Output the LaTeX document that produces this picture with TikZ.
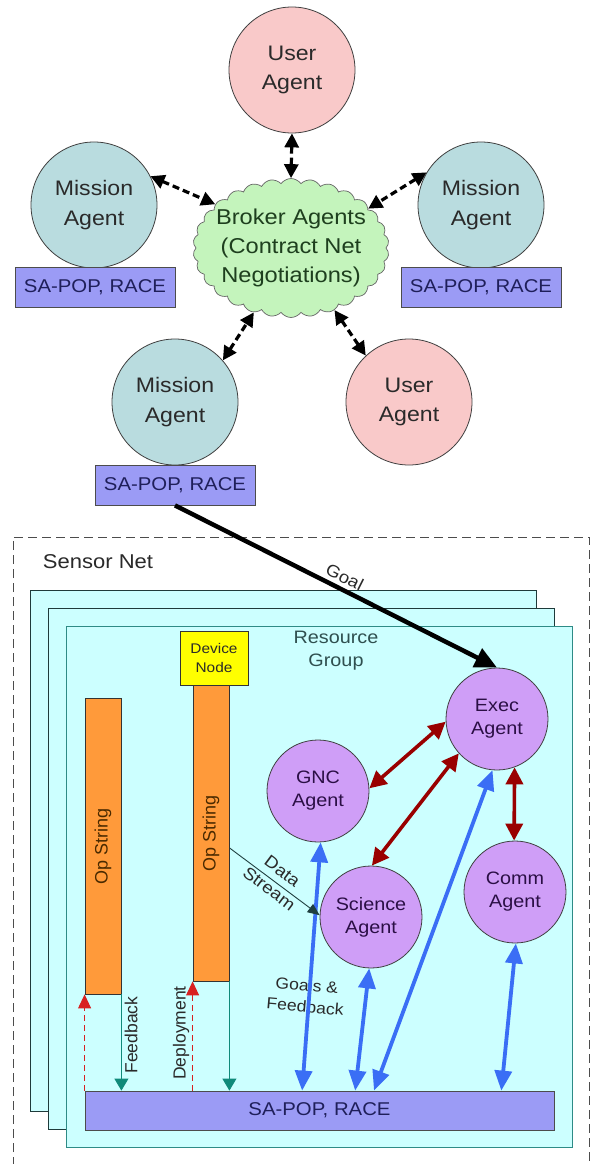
\documentclass[tikz,border=0pt]{standalone}
\usepackage{fontspec}
\setmainfont{Liberation Sans}[FakeStretch=1.1]
\newfontfamily\uprightface{Liberation Sans}
\usetikzlibrary{arrows.meta,shapes.symbols,calc}

\definecolor{userpink}{HTML}{F9C9C9}
\definecolor{missionteal}{HTML}{B9DCDF}
\definecolor{planblue}{HTML}{9B9BF5}
\definecolor{cloudgreen}{HTML}{C4F4BC}
\definecolor{panelcyan}{HTML}{CCFFFF}
\definecolor{agentviolet}{HTML}{CF9EF7}
\definecolor{oporange}{HTML}{FF9A3A}
\definecolor{devyellow}{HTML}{FFFF00}
\definecolor{linkred}{HTML}{990000}
\definecolor{linkblue}{HTML}{3A6EF5}
\definecolor{tealline}{HTML}{0F8A7A}
\definecolor{dashred}{HTML}{D82020}
\definecolor{panelteal}{HTML}{2E8B86}
\definecolor{panelrim}{HTML}{1E3A3A}
\definecolor{inktext}{HTML}{2A2A2A}
\definecolor{brokerink}{HTML}{1E3F1E}
\definecolor{planink}{HTML}{1F1F5A}
\definecolor{agentink}{HTML}{2B0F45}
\definecolor{groupink}{HTML}{2F4F4F}
\definecolor{opink}{HTML}{4A2A00}
\definecolor{streamink}{HTML}{1F3F3F}

\tikzset{
  bigagent/.style={circle, draw=black!75, line width=0.8pt, minimum size=126pt,
    inner sep=0pt, align=center, text=inktext,
    font=\fontsize{21}{29.5}\selectfont},
  useragent/.style={bigagent, fill=userpink},
  missionagent/.style={bigagent, fill=missionteal},
  planbox/.style={rectangle, draw=black!70, fill=planblue, line width=0.8pt,
    minimum width=160pt, minimum height=40pt, inner sep=0pt, text=planink,
    font=\fontsize{18.5}{22}\selectfont},
  smallagent/.style={circle, draw=black!75, fill=agentviolet, line width=0.8pt,
    minimum size=102pt, inner sep=0pt, align=center, text=agentink,
    font=\fontsize{18}{23}\selectfont},
  panel/.style={rectangle, fill=panelcyan, line width=1pt,
    minimum width=506pt, minimum height=521pt, inner sep=0pt},
  opbar/.style={rectangle, draw=black!80, fill=oporange, line width=0.8pt,
    minimum width=36pt, minimum height=296pt, inner sep=0pt},
  optext/.style={rotate=90, text=opink, font=\uprightface\fontsize{18}{21}\selectfont},
  negotiate/.style={{Triangle[length=14pt,width=14pt]}-{Triangle[length=14pt,width=14pt]},
    line width=3.2pt, dash pattern=on 7pt off 4pt, black},
  redlink/.style={{Triangle[length=17pt,width=17pt]}-{Triangle[length=17pt,width=17pt]},
    line width=3.6pt, linkred},
  bluelink/.style={{Triangle[length=20pt,width=17pt]}-{Triangle[length=20pt,width=17pt]},
    line width=3.8pt, linkblue},
  tealflow/.style={-{Triangle[length=12pt,width=14pt]}, line width=0.9pt, tealline},
  redflow/.style={-{Triangle[length=14pt,width=13pt]}, line width=0.9pt, dashred,
    dash pattern=on 6pt off 4pt},
  smalllabel/.style={text=inktext, font=\fontsize{16}{21}\selectfont, align=center},
  sidelabel/.style={rotate=90, text=inktext, font=\uprightface\fontsize{17.5}{21}\selectfont}
}

\begin{document}
\begin{tikzpicture}[x=1pt, y=-1pt]
\useasboundingbox (0,0) rectangle (591,1164);
\fill[white] (0,0) rectangle (591,1164);

% upper tier: user and mission agents around the broker
\node[useragent] (utop) at (292,70) {User\\Agent};
\node[missionagent] (mleft) at (94,205) {Mission\\Agent};
\node[missionagent] (mright) at (481,205) {Mission\\Agent};
\node[missionagent] (mbot) at (175,402) {Mission\\Agent};
\node[useragent] (ubot) at (409,402) {User\\Agent};

\node[planbox] (sapL) at (95,287) {SA-POP, RACE};
\node[planbox] (sapR) at (481,287) {SA-POP, RACE};
\node[planbox] (sapB) at (175,485) {SA-POP, RACE};

\node[cloud, cloud puffs=30, cloud puff arc=110, cloud ignores aspect,
      minimum width=196pt, minimum height=139pt, inner sep=0pt,
      draw=black!60, line width=0.7pt, fill=cloudgreen] (broker) at (291,248) {};
\node[align=center, text=brokerink, font=\fontsize{21.5}{29}\selectfont]
      (brokertext) at (broker.center) {Broker Agents\\(Contract Net\\Negotiations)};

\draw[negotiate] (utop.south) -- (broker.north);
\draw[negotiate] (mleft.27) -- (broker.150);
\draw[negotiate] (mright.149) -- (broker.27);
\draw[negotiate] (mbot.41) -- (broker.240);
\draw[negotiate] (ubot.133) -- (broker.305);

% sensor net
\draw[black!70, line width=0.8pt, dash pattern=on 9pt off 5pt]
  (13,1180) -- (13,537) -- (589,537) -- (589,1180);
\node[text=inktext, font=\fontsize{20}{24}\selectfont] (sensorlabel) at (98,562) {Sensor Net};

\node[panel, draw=panelrim] (layerA) at (283,851) {};
\node[panel, draw=panelrim] (layerB) at (301,869) {};
\node[panel, draw=panelteal] (group) at (319,887) {};

\node[align=center, text=groupink, font=\fontsize{18}{23}\selectfont]
  (grouplabel) at (336,651) {Resource\\Group};

\node[rectangle, draw=black!80, fill=devyellow, line width=0.8pt,
      minimum width=68pt, minimum height=54pt, inner sep=0pt, align=center,
      text=inktext, font=\fontsize{14}{19}\selectfont] (device) at (214,658) {Device\\Node};

\node[opbar] (opA) at (103,846) {};
\node[optext] (opAtext) at (opA.center) {Op String};
\node[opbar] (opB) at (211,833) {};
\node[optext] (opBtext) at (opB.center) {Op String};

\node[planbox, minimum width=469pt, minimum height=39pt] (bar) at (319.5,1110.5) {SA-POP, RACE};

% agents inside the resource group
\node[smallagent] (exec) at (497,719) {Exec\\Agent};
\node[smallagent] (gnc) at (318,791) {GNC\\Agent};
\node[smallagent] (sci) at (371,917) {Science\\Agent};
\node[smallagent] (comm) at (515,892) {Comm\\Agent};

\draw[redlink] (gnc.3) -- (exec.183);
\draw[redlink] (sci.89) -- (exec.222);
\draw[redlink] (exec.290) -- (comm.91);

\node[smalllabel, rotate=-5] (goalslabel) at (306,996) {Goals \&\\Feedback};

\draw[bluelink] (gnc.273) -- ($(bar.north west)!0.463!(bar.north east)$);
\draw[bluelink] (sci.268) -- ($(bar.north west)!0.576!(bar.north east)$);
\draw[bluelink] (exec.265) -- ($(bar.north west)!0.616!(bar.north east)$);
\draw[bluelink] (comm.271) -- ($(bar.north west)!0.887!(bar.north east)$);

% data stream from the device op string to the science agent
\draw[-{Triangle[length=12pt,width=10pt]}, line width=0.9pt, streamink]
  ($(opB.north east)!0.55!(opB.south east)$) -- (sci.178)
  node[pos=0.5, sloped, align=center, text=inktext,
       font=\fontsize{17}{22}\selectfont, yshift=2pt] (streamlabel) {Data\\Stream};

% deployment and feedback between the op strings and the planner
\draw[redflow] (bar.north west) -- (opA.south west);
\draw[tealflow] (opA.south east) -- (opA.south east |- bar.north);
\draw[redflow] (opB.south west |- bar.north) -- (opB.south west);
\draw[tealflow] (opB.south east) -- (opB.south east |- bar.north);
\node[sidelabel] (feedbacklabel) at (131,1035) {Feedback};
\node[sidelabel] (deploylabel) at (181,1033) {Deployment};

% goal handed from the mission planner to the executive
\draw[-{Triangle[length=22pt,width=20pt]}, line width=4.5pt, black]
  (sapB.south) -- (exec.north)
  node[pos=0.51, sloped, above, inner sep=4pt, text=inktext,
       font=\fontsize{17}{20}\selectfont] (goallabel) {Goal};
\end{tikzpicture}
\end{document}
